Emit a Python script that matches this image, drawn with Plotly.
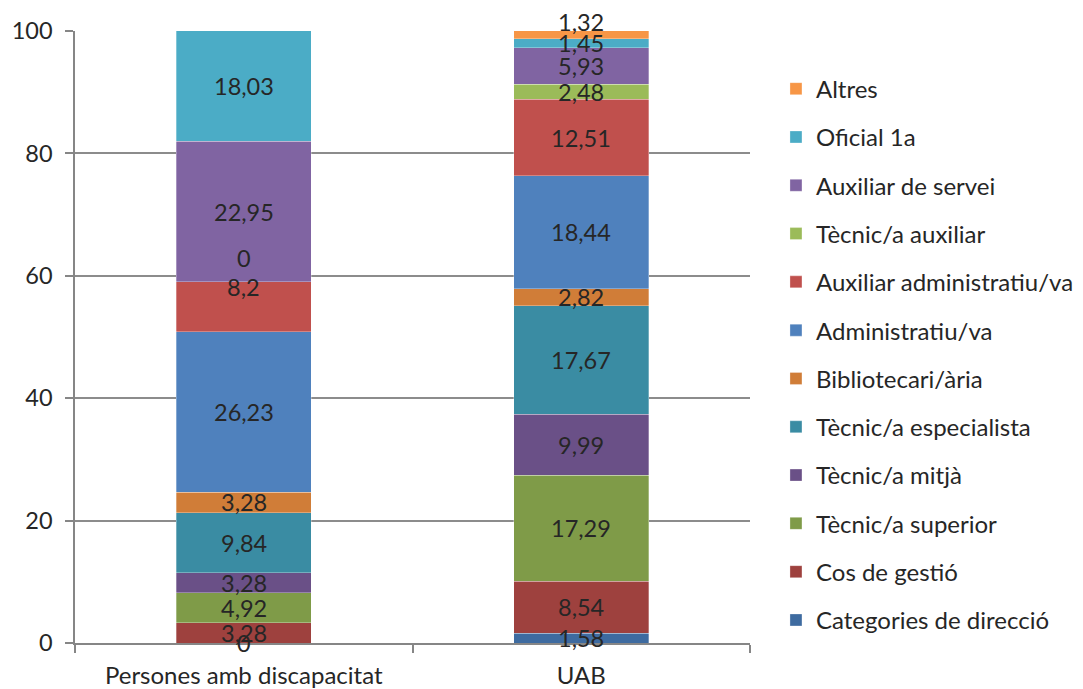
import plotly.graph_objects as go

categories = ["Persones amb discapacitat", "UAB"]
series_names = [
    "Categories de direcció", "Cos de gestió", "Tècnic/a superior", "Tècnic/a mitjà",
    "Tècnic/a especialista", "Bibliotecari/ària", "Administratiu/va",
    "Auxiliar administratiu/va", "Tècnic/a auxiliar", "Auxiliar de servei",
    "Oficial 1a", "Altres",
]
persones = [0, 3.28, 4.92, 3.28, 9.84, 3.28, 26.23, 8.2, 0, 22.95, 18.03, None]
uab = [1.58, 8.54, 17.29, 9.99, 17.67, 2.82, 18.44, 12.51, 2.48, 5.93, 1.45, 1.32]
colors = [
    "#3E6BA0", "#9E413E", "#7F9B48", "#6A5087", "#3A8CA3", "#D07D38",
    "#4F81BD", "#C0504D", "#9BBB59", "#8064A2", "#4BACC6", "#F79646",
]
y_ticks = [0, 20, 40, 60, 80, 100]

# label vertical pixel nudges (Excel collision avoidance)
shift_p = [0, 0, 0, 0, 0, 0, 0, 20, 24, 0, 0, 0]
shift_u = [0, 0, 0, 0, 0, 0, 0, 0, 0, 0, 0, 13]

FONT = "Lato"
TXT = "#262626"
FS = 23.5

fig = go.Figure()
n = len(series_names)
for i, name in enumerate(series_names):
    fig.add_trace(go.Bar(
        x=categories, y=[persones[i], uab[i]], name=name,
        marker=dict(color=colors[i], line=dict(color="rgba(255,255,255,0.5)", width=0.6)),
        legendgroup=name, legendrank=n - i, hoverinfo="name+y",
    ))

def fmt(v):
    return ("%g" % v).replace(".", ",")

annotations = []
for cat, vals, shifts in ((categories[0], persones, shift_p), (categories[1], uab, shift_u)):
    cum = 0.0
    for v, sh in zip(vals, shifts):
        if v is None:
            continue
        mid = cum + v / 2.0
        cum += v
        annotations.append(dict(
            x=cat, y=mid, xref="x", yref="y", text=fmt(v), showarrow=False,
            yshift=sh, font=dict(family=FONT, size=FS, color=TXT),
        ))

fig.update_layout(
    width=1075, height=681,
    margin=dict(l=67, r=333, t=23, b=46),
    paper_bgcolor="white", plot_bgcolor="white",
    barmode="stack", bargap=0.6,
    font=dict(family=FONT, size=FS, color=TXT),
    annotations=annotations,
    legend=dict(
        xref="container", yref="container",
        x=0.7144, xanchor="left", y=0.914, yanchor="top",
        traceorder="grouped", tracegroupgap=14.1,
        maxheight=670,
        font=dict(family=FONT, size=24, color=TXT),
        itemwidth=30, bgcolor="rgba(0,0,0,0)",
    ),
    showlegend=True,
)
fig.update_xaxes(
    automargin=False,
    showline=True, linecolor="#868686", linewidth=1.5,
    ticks="outside", tickson="boundaries", ticklen=8, tickcolor="#868686", tickwidth=1.5,
    ticklabelstandoff=10,
    tickfont=dict(family=FONT, size=24, color=TXT),
)
fig.update_yaxes(
    automargin=False,
    range=[0, 100], tickvals=y_ticks, showgrid=True, gridcolor="#8C8C8C", gridwidth=1.5,
    showline=True, linecolor="#868686", linewidth=1.5,
    ticks="outside", ticklen=8, tickcolor="#868686", tickwidth=1.5,
    ticklabelstandoff=8,
    tickfont=dict(family=FONT, size=FS, color=TXT), zeroline=False,
)
fig.write_html("out.html")
